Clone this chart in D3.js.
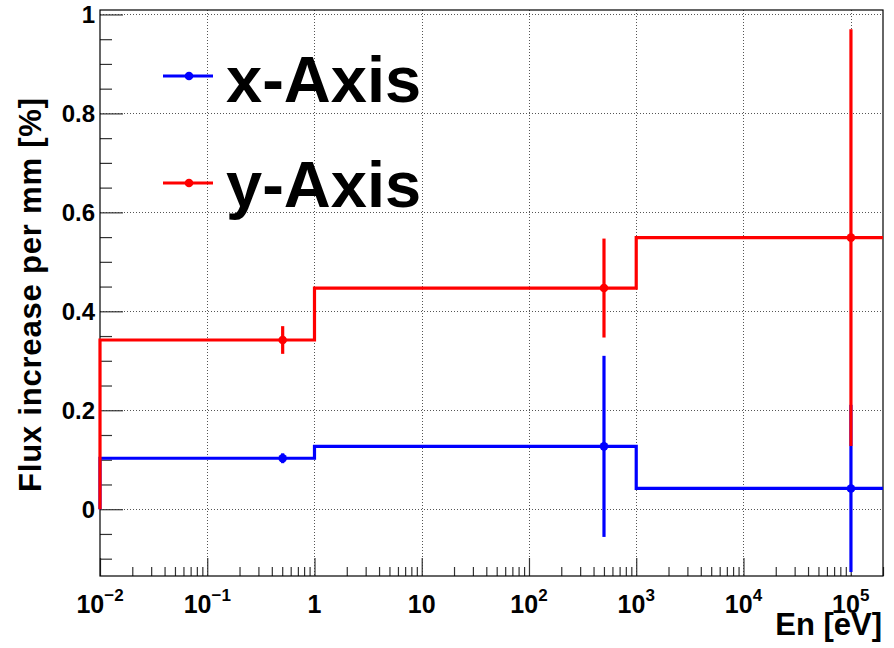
<!DOCTYPE html>
<html>
<head>
<meta charset="utf-8">
<script src="https://cdn.jsdelivr.net/npm/d3@7"></script>
<style>
  html, body { margin: 0; padding: 0; background: #fff; }
  svg { display: block; }
  text { font-family: "Liberation Sans", Arial, Helvetica, sans-serif; font-weight: bold; fill: #000; }
</style>
</head>
<body>
<div id="chart"></div>
<script>
// ---- data ----
const binEdges = [0.01, 1, 1000, 200000];
const xAxisVals = [0.103, 0.127, 0.042];
const xAxisErrs = [0.010, 0.183, 0.169];
const yAxisVals = [0.342, 0.447, 0.549];
const yAxisErrs = [0.028, 0.100, 0.421];
const seriesNames = ["x-Axis", "y-Axis"];
const seriesColors = ["#0000ff", "#ff0000"];

const yTicks = [0, 0.2, 0.4, 0.6, 0.8, 1];
const yTickLabels = ["0", "0.2", "0.4", "0.6", "0.8", "1"];
const xTicks = [0.01, 0.1, 1, 10, 100, 1000, 10000, 100000];
const xTickBase = ["10", "10", "1", "10", "10", "10", "10", "10"];
const xTickExp = ["\u22122", "\u22121", "", "", "2", "3", "4", "5"];
const xTitle = "En [eV]";
const yTitle = "Flux increase per mm [%]";

// ---- layout ----
const W = 894, H = 648;
const L = 100, R = 883, T = 10, B = 576;

const svg = d3.select("#chart").append("svg").attr("width", W).attr("height", H);

const x = d3.scaleLog().domain([0.01, 200000]).range([L, R]);
const y = d3.scaleLinear().domain([-0.135, 1.009]).range([B, T]);

// grid
const grid = svg.append("g").attr("stroke", "#555").attr("stroke-width", 1).attr("stroke-dasharray", "1,2");
grid.selectAll("line.gx").data(xTicks.filter(d => d > 0.01)).join("line")
  .attr("x1", d => Math.round(x(d)) + 0.5).attr("x2", d => Math.round(x(d)) + 0.5)
  .attr("y1", T).attr("y2", B);
grid.selectAll("line.gy").data(yTicks).join("line")
  .attr("x1", L).attr("x2", R)
  .attr("y1", d => Math.round(y(d)) + 0.5).attr("y2", d => Math.round(y(d)) + 0.5);

// minor tick values
const yMinor = d3.range(-0.1, 1.0001, 0.05).map(v => +v.toFixed(2)).filter(v => yTicks.indexOf(v) < 0);
const xMinor = [];
for (let e = -2; e <= 5; e++) for (let m = 2; m <= 9; m++) { const v = m * Math.pow(10, e); if (v <= 200000) xMinor.push(v); }

// axes (ticks inward, like ROOT)
const yAxisMajor = d3.axisLeft(y).tickValues(yTicks).tickSize(-23).tickFormat("");
const yAxisMinor = d3.axisLeft(y).tickValues(yMinor).tickSize(-12).tickFormat("");
const xAxisMajor = d3.axisBottom(x).tickValues(xTicks).tickSize(-18).tickFormat("");
const xAxisMinor = d3.axisBottom(x).tickValues(xMinor).tickSize(-9).tickFormat("");

function styleAxis(g) {
  g.select(".domain").remove();
  g.selectAll(".tick line").attr("stroke", "#333").attr("stroke-width", 1.2);
}
svg.append("g").attr("transform", `translate(${L},0)`).call(yAxisMajor).call(styleAxis);
svg.append("g").attr("transform", `translate(${L},0)`).call(yAxisMinor).call(styleAxis);
svg.append("g").attr("transform", `translate(0,${B})`).call(xAxisMajor).call(styleAxis);
svg.append("g").attr("transform", `translate(0,${B})`).call(xAxisMinor).call(styleAxis);

// frame
svg.append("rect").attr("x", L).attr("y", T).attr("width", R - L).attr("height", B - T)
  .attr("fill", "none").attr("stroke", "#000").attr("stroke-width", 1.2);

// y tick labels
svg.append("g").selectAll("text").data(yTicks).join("text")
  .attr("x", 95).attr("y", d => y(d) + 8.5)
  .attr("text-anchor", "end").attr("font-size", 24)
  .text((d, i) => yTickLabels[i]);

// x tick labels
const xl = svg.append("g").selectAll("text").data(xTicks).join("text")
  .attr("x", d => x(d)).attr("y", 613)
  .attr("text-anchor", "middle").attr("font-size", 25);
xl.each(function(d, i) {
  const t = d3.select(this);
  t.append("tspan").text(xTickBase[i]);
  if (xTickExp[i]) t.append("tspan").attr("font-size", 17).attr("dy", -12).text(xTickExp[i]);
});

// titles
svg.append("text").attr("x", 882).attr("y", 635).attr("text-anchor", "end")
  .attr("font-size", 31).text(xTitle);
svg.append("text").attr("transform", "translate(41,492) rotate(-90)").attr("text-anchor", "start")
  .attr("font-size", 31).attr("textLength", 394).attr("lengthAdjust", "spacing").text(yTitle);

// histograms
const plot = svg.append("g");
const allVals = [xAxisVals, yAxisVals];
const allErrs = [xAxisErrs, yAxisErrs];

function stepPoints(vals) {
  const pts = [[binEdges[0], 0]];
  vals.forEach((v, i) => { pts.push([binEdges[i], v]); pts.push([binEdges[i + 1], v]); });
  return pts;
}
const line = d3.line().x(d => x(d[0])).y(d => y(d[1]));

[0, 1].forEach(s => {
  const g = plot.append("g");
  const col = seriesColors[s];
  g.append("path").attr("d", line(stepPoints(allVals[s])))
    .attr("fill", "none").attr("stroke", col).attr("stroke-width", 3.2).attr("stroke-linejoin", "miter");
  const centers = allVals[s].map((v, i) => ({ c: (binEdges[i] + binEdges[i + 1]) / 2, v: v, e: allErrs[s][i] }));
  g.selectAll("line.err").data(centers).join("line")
    .attr("x1", d => x(d.c)).attr("x2", d => x(d.c))
    .attr("y1", d => y(Math.max(d.v - d.e, -0.135))).attr("y2", d => y(d.v + d.e))
    .attr("stroke", col).attr("stroke-width", 3.2);
  g.selectAll("circle").data(centers).join("circle")
    .attr("cx", d => x(d.c)).attr("cy", d => y(d.v)).attr("r", 4.3).attr("fill", col);
});

// legend
const legend = svg.append("g");
const legY = [76, 183];
const legBase = [101.5, 206.5];
[0, 1].forEach(s => {
  legend.append("line").attr("x1", 163).attr("x2", 213).attr("y1", legY[s]).attr("y2", legY[s])
    .attr("stroke", seriesColors[s]).attr("stroke-width", 3.2);
  legend.append("circle").attr("cx", 189).attr("cy", legY[s]).attr("r", 4.3).attr("fill", seriesColors[s]);
  legend.append("text").attr("x", 226).attr("y", legBase[s]).attr("font-size", 65).text(seriesNames[s]);
});
</script>
</body>
</html>
